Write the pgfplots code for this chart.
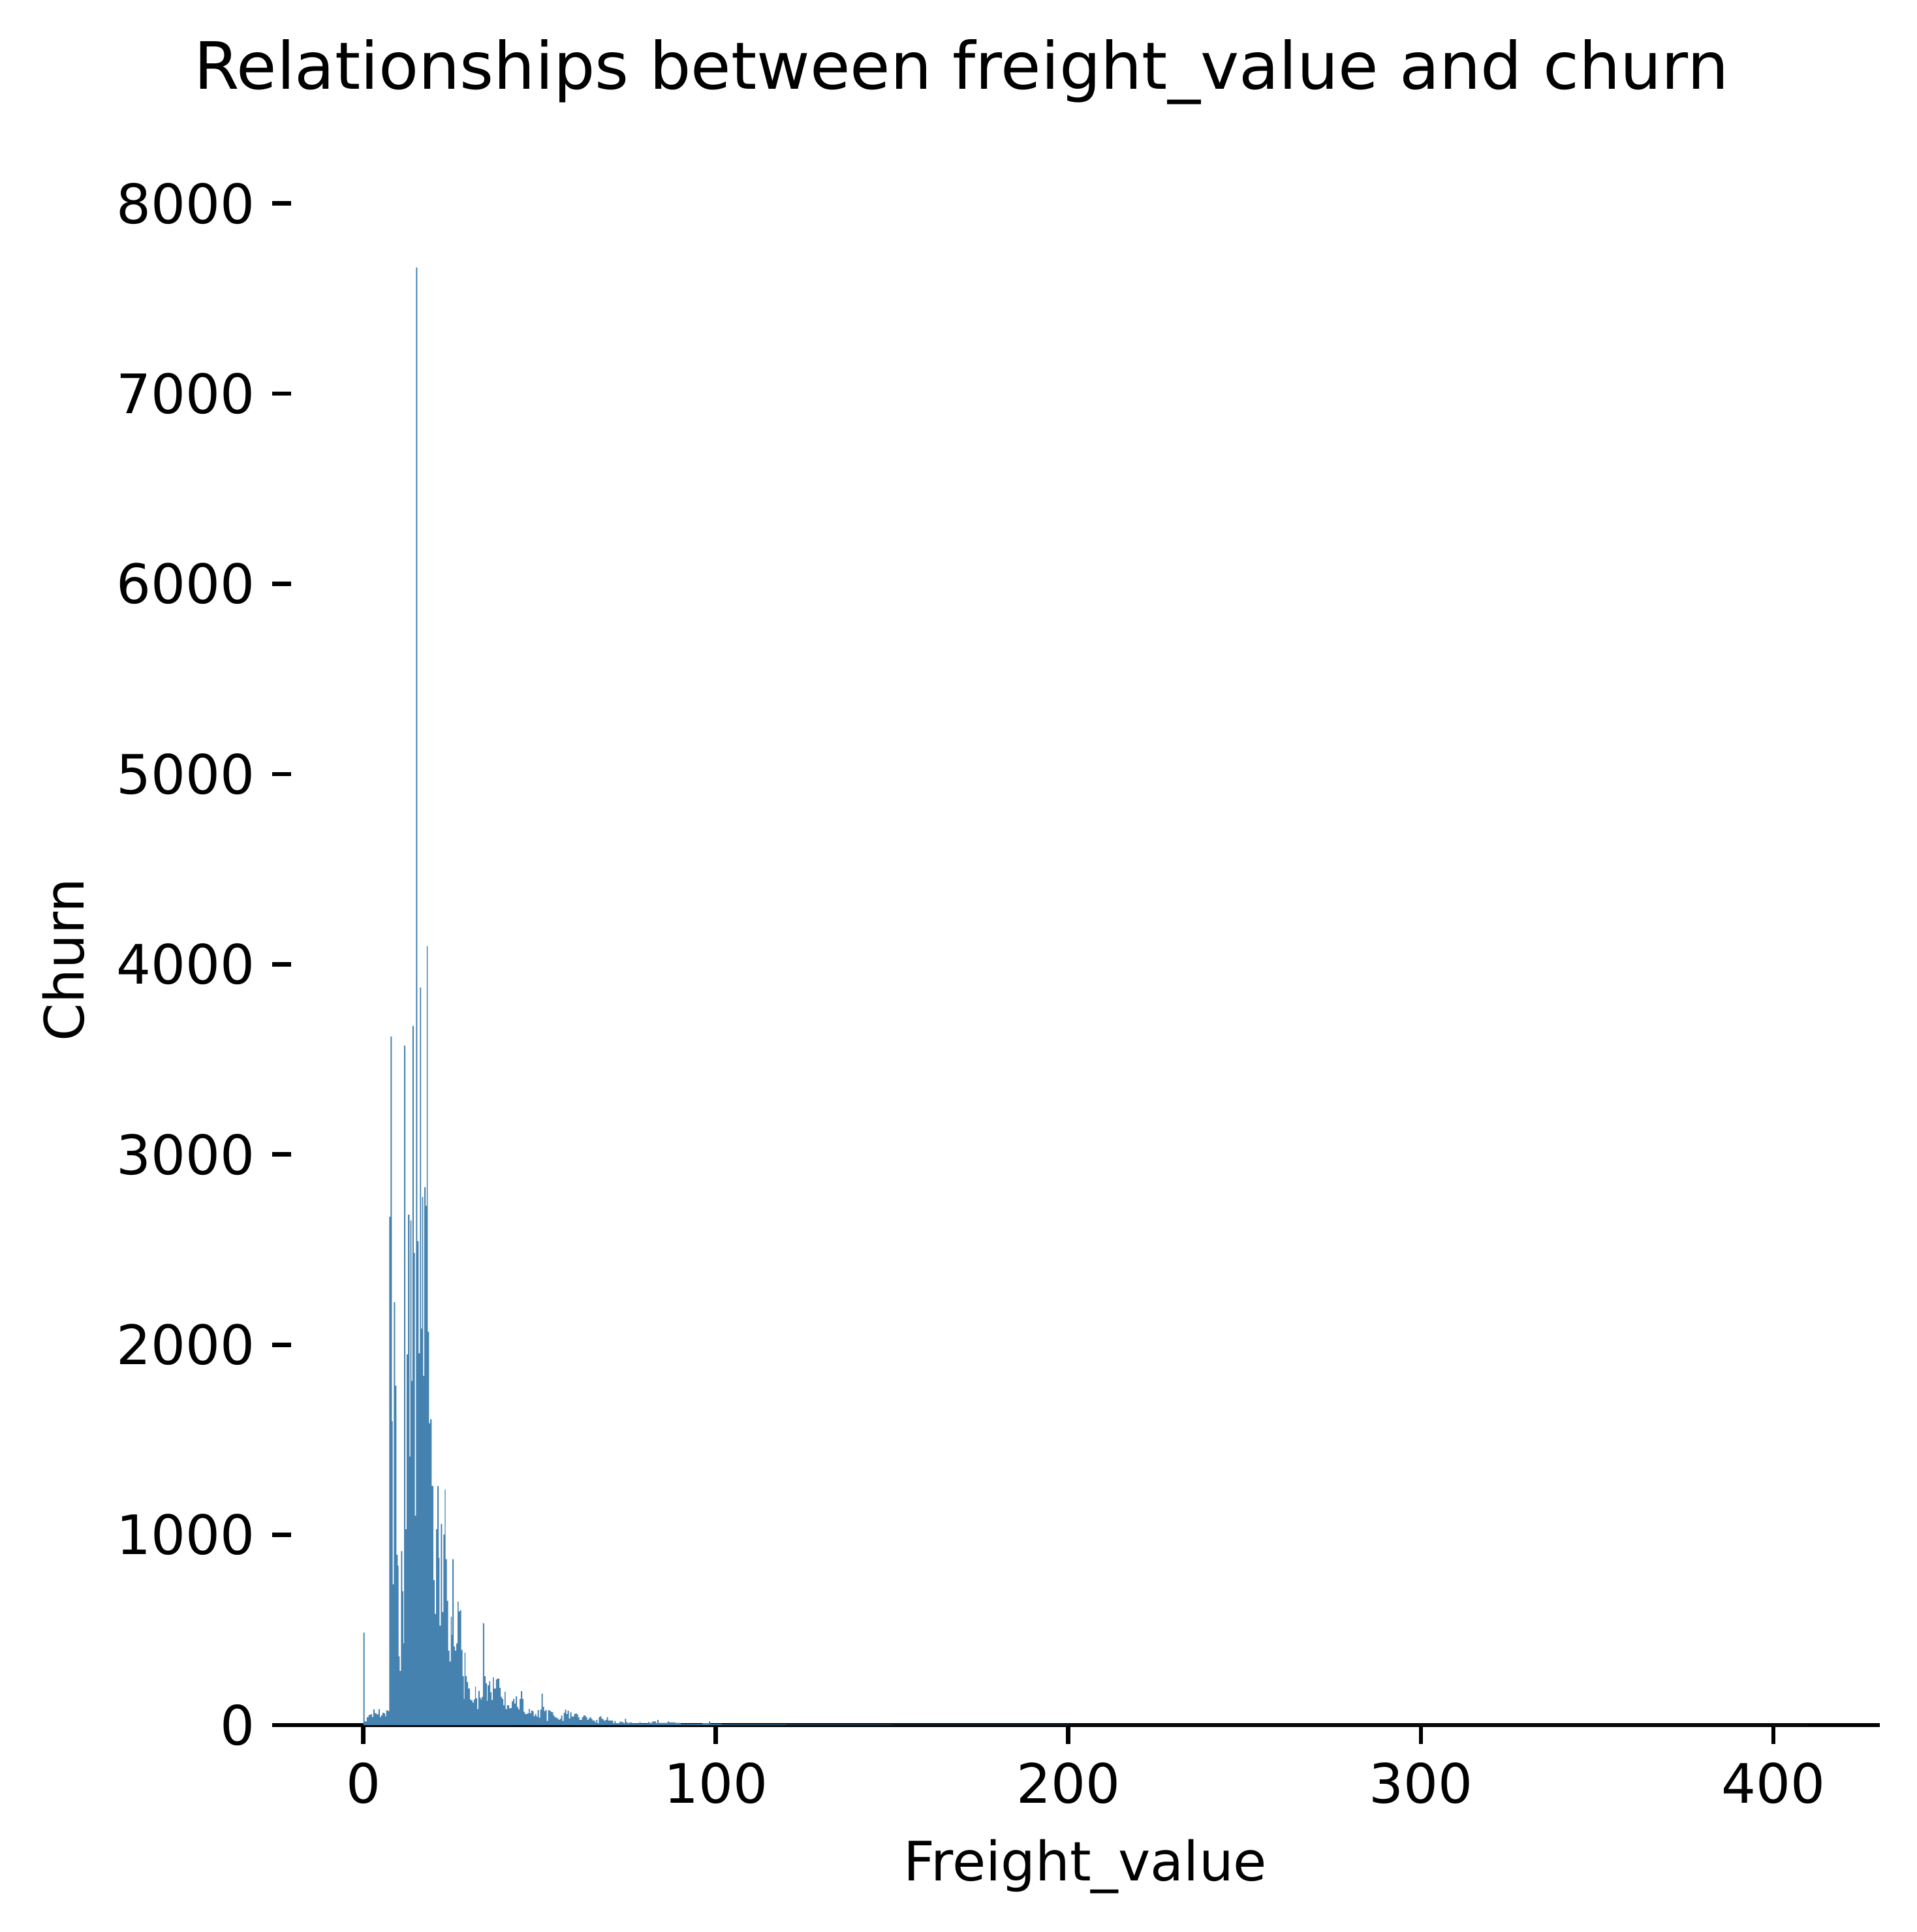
\documentclass[border=0pt]{standalone}
\usepackage{fontspec}
\setmainfont{DejaVu Sans}
\usepackage{pgfplots}
\pgfplotsset{compat=1.18}
\definecolor{barblue}{RGB}{70,130,176}
\begin{document}
\begin{tikzpicture}
\begin{axis}[
  name=ax,
  scale only axis,
  width=292.08bp, height=281.4bp,
  xmin=-20.48, xmax=430.16,
  ymin=0, ymax=8047,
  axis x line*=bottom,
  axis y line*=left,
  y axis line style={draw=none},
  x axis line style={line width=0.8bp, black},
  tick align=outside,
  major tick length=3.5bp,
  every tick/.style={black, line width=0.8bp},
  xtick={0,100,200,300,400},
  ytick={0,1000,2000,3000,4000,5000,6000,7000,8000},
  minor tick num=0,
  /pgf/number format/assume math mode=true,
  /pgf/number format/1000 sep={},
  tick label style={font=\fontsize{10bp}{12bp}\selectfont, inner sep=0pt},
  xticklabel style={anchor=north, yshift=-3.2bp},
  yticklabel style={anchor=east, xshift=-2.96bp},
  xlabel={Freight\_value},
  ylabel={Churn},
  label style={font=\fontsize{10bp}{12bp}\selectfont, inner sep=0pt},
  xlabel style={at={(axis description cs:0.5,-0.1019)}, anchor=base},
  ylabel style={at={(axis description cs:-0.1305,0.5)}, anchor=base, rotate=0},
]
\addplot[const plot, fill=barblue, draw=none] coordinates {
(0,486) (0.37,19) (1.0,42) (1.5,54) (2.1,57) (2.5,42) (2.85,82) (3.2,63) (3.7,57) (4.3,84) (4.7,42) (5.0,51) (5.4,65) (5.8,61) (6.2,46) (6.5,78) (6.9,74)
(7.35,2673) (7.72,3620) (8.09,1598) (8.34,740) (8.64,2223) (9.01,1784) (9.38,895) (9.75,838) (10.0,362) (10.31,284) (10.68,915) (11.05,703) (11.36,429) (11.6,3573) (11.97,1029) (12.34,1949) (12.71,2684) (13.09,1412) (13.33,2653) (13.64,1810) (13.95,3676) (14.32,2482) (14.63,1101) (14.94,7663) (15.31,2544) (15.68,1955) (16.05,3878) (16.41,2084) (16.66,2777) (16.97,1836) (17.34,2828) (17.71,2730) (18.02,4095) (18.27,2068) (18.64,1587) (19.0,1608)
(19.38,1257) (19.87,762) (20.24,585) (20.67,1030) (21.04,1256) (21.41,880) (21.6,523) (21.97,1057) (22.34,594) (22.71,1002) (23.08,1239) (23.33,872) (23.7,653) (24.07,391) (24.44,334) (24.81,570) (25.11,474) (25.3,872) (25.67,413) (26.04,391) (26.41,429) (26.78,649) (27.03,597) (27.4,604) (27.77,395) (28.14,257) (28.51,138) (28.69,381) (29.0,257) (29.37,226) (29.74,193) (30.24,134) (30.6,129) (30.98,118) (31.35,135) (31.72,202) (31.96,141) (32.33,84) (32.64,180) (33.01,145) (33.32,134) (33.57,148) (33.94,535) (34.31,257) (34.68,220) (35.05,127) (35.29,209) (35.67,230) (36.04,173) (36.41,132) (36.77,251) (37.02,192) (37.64,240) (38.01,245) (38.63,196) (39.0,148) (39.37,138) (39.74,104) (40.11,175) (40.35,84) (40.72,104)
(41.4,88) (41.77,90) (42.14,125) (42.51,138) (42.88,113) (43.25,151) (43.62,95) (43.99,82) (44.36,138) (44.73,178) (45.11,138) (45.48,70) (45.85,58) (46.59,62) (46.96,85) (47.2,62) (47.57,77) (47.94,73) (48.31,47) (48.68,58) (49.05,45) (49.42,79) (49.79,39) (50.17,81) (50.54,165) (50.9,96) (51.27,73) (51.64,79) (52.01,22) (52.38,79) (52.76,75) (53.13,70) (53.5,67) (53.87,50) (54.24,42) (54.61,39) (54.98,35) (55.35,27) (55.72,33) (56.09,50) (56.46,22) (56.83,65) (57.2,81) (57.57,58) (57.94,75) (58.31,35) (58.68,67) (59.05,45) (59.79,58) (60.16,62) (60.53,56) (60.9,42) (61.27,27) (62.01,42) (62.38,50) (63.12,42) (63.49,27) (63.86,35) (64.23,42) (64.6,33) (64.97,24) (65.71,13) (66.08,27) (66.45,10) (66.82,42) (67.19,47) (67.56,35) (67.93,30) (68.3,22) (68.67,27) (69.05,42) (69.42,24) (70.89,10) (71.26,22) (71.63,10) (72.74,19) (73.11,16) (73.85,10) (74.22,33) (74.59,16) (74.96,10) (75.46,13) (76.14,9) (78.3,16) (78.67,8) (80.77,16) (81.14,12) (82.0,19) (82.99,10) (83.36,27) (83.73,12) (86.33,19) (86.69,14) (88.48,12) (90.02,6) (96.19,10) (98.04,19) (98.41,6) (101.74,3) (120,2) (150,1) (200,0.5) (409.68,0)
} \closedcycle;
\end{axis}
\node[anchor=base, font=\fontsize{12bp}{14.4bp}\selectfont, inner sep=0pt] at ([shift={(123.24bp,19.44bp)}]ax.north west) {Relationships between freight\_value and churn};
\pgfresetboundingbox
\path[use as bounding box] ([shift={(-53.52bp,-38.04bp)}]ax.south west) rectangle ([shift={(6.84bp,35.76bp)}]ax.north east);
\end{tikzpicture}
\end{document}
